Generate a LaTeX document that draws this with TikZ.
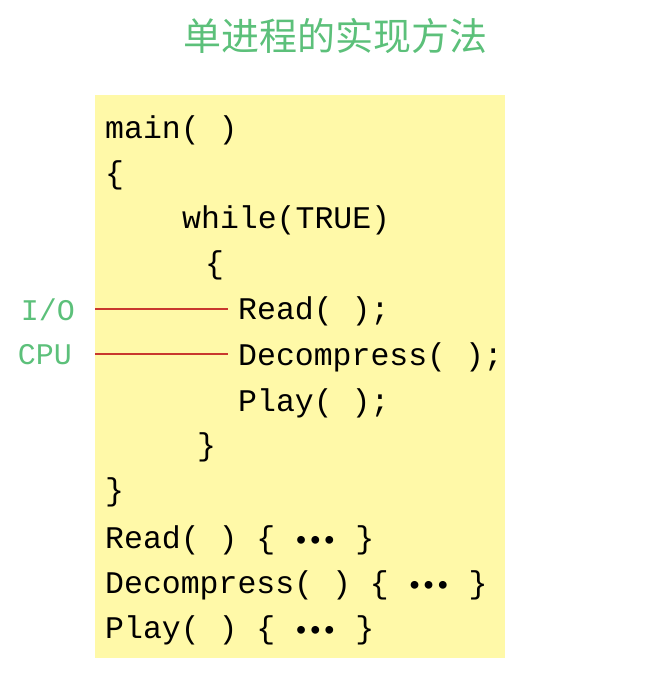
\documentclass[tikz,border=0pt]{standalone}
\usepackage{fontspec}
\setmonofont{Liberation Mono}
\newfontfamily\cjk{Noto Sans CJK SC}
\definecolor{ttl}{HTML}{5CC07A}
\definecolor{bg}{HTML}{FFF9A8}
\definecolor{rl}{HTML}{C8382E}
\begin{document}
\begin{tikzpicture}[x=1pt,y=-1pt,
  code/.style={anchor=west,inner sep=0pt,font=\ttfamily\fontsize{31.5}{31.5}\selectfont},
  lbl/.style={inner sep=0pt,text=ttl,font=\ttfamily\fontsize{30}{30}\selectfont},
  dots/.style={},
  red/.style={rl,line width=1.5pt}]
\useasboundingbox (0,0) rectangle (646,674);
\fill[bg] (95,95) rectangle (505,658);
\node[inner sep=0pt,text=ttl,font=\cjk\fontsize{38}{38}\selectfont] (t) at (335,36) {单进程的实现方法};
\newcommand\dts{{\fontspec{DejaVu Sans}\fontsize{22}{22}\selectfont\textbf{•••}}}
\node[code] (l1) at (105,130) {main( )};
\node[code] (l2) at (105,175) {\{};
\node[code] (l3) at (182,220) {while(TRUE)};
\node[code] (l4) at (205,265) {\{};
\node[code] (l5) at (238,311) {Read( );};
\node[code] (l6) at (238,357) {Decompress( );};
\node[code] (l7) at (238,403) {Play( );};
\node[code] (l8) at (197,447) {\}};
\node[code] (l9) at (105,492) {\}};
\node[code] (l10) at (105,540) {Read( ) \{ \dts{} \}};
\node[code] (l11) at (105,585) {Decompress( ) \{ \dts{} \}};
\node[code] (l12) at (105,630) {Play( ) \{ \dts{} \}};
\node[lbl] (io) at (48,310) {I/O};
\node[lbl] (cpu) at (45,355) {CPU};
\coordinate (a1) at (95,309);
\coordinate (a2) at (95,354);
\coordinate (b1) at (228,309);
\coordinate (b2) at (228,354);
\draw[red] (a1) -- (b1);
\draw[red] (a2) -- (b2);
\end{tikzpicture}
\end{document}
